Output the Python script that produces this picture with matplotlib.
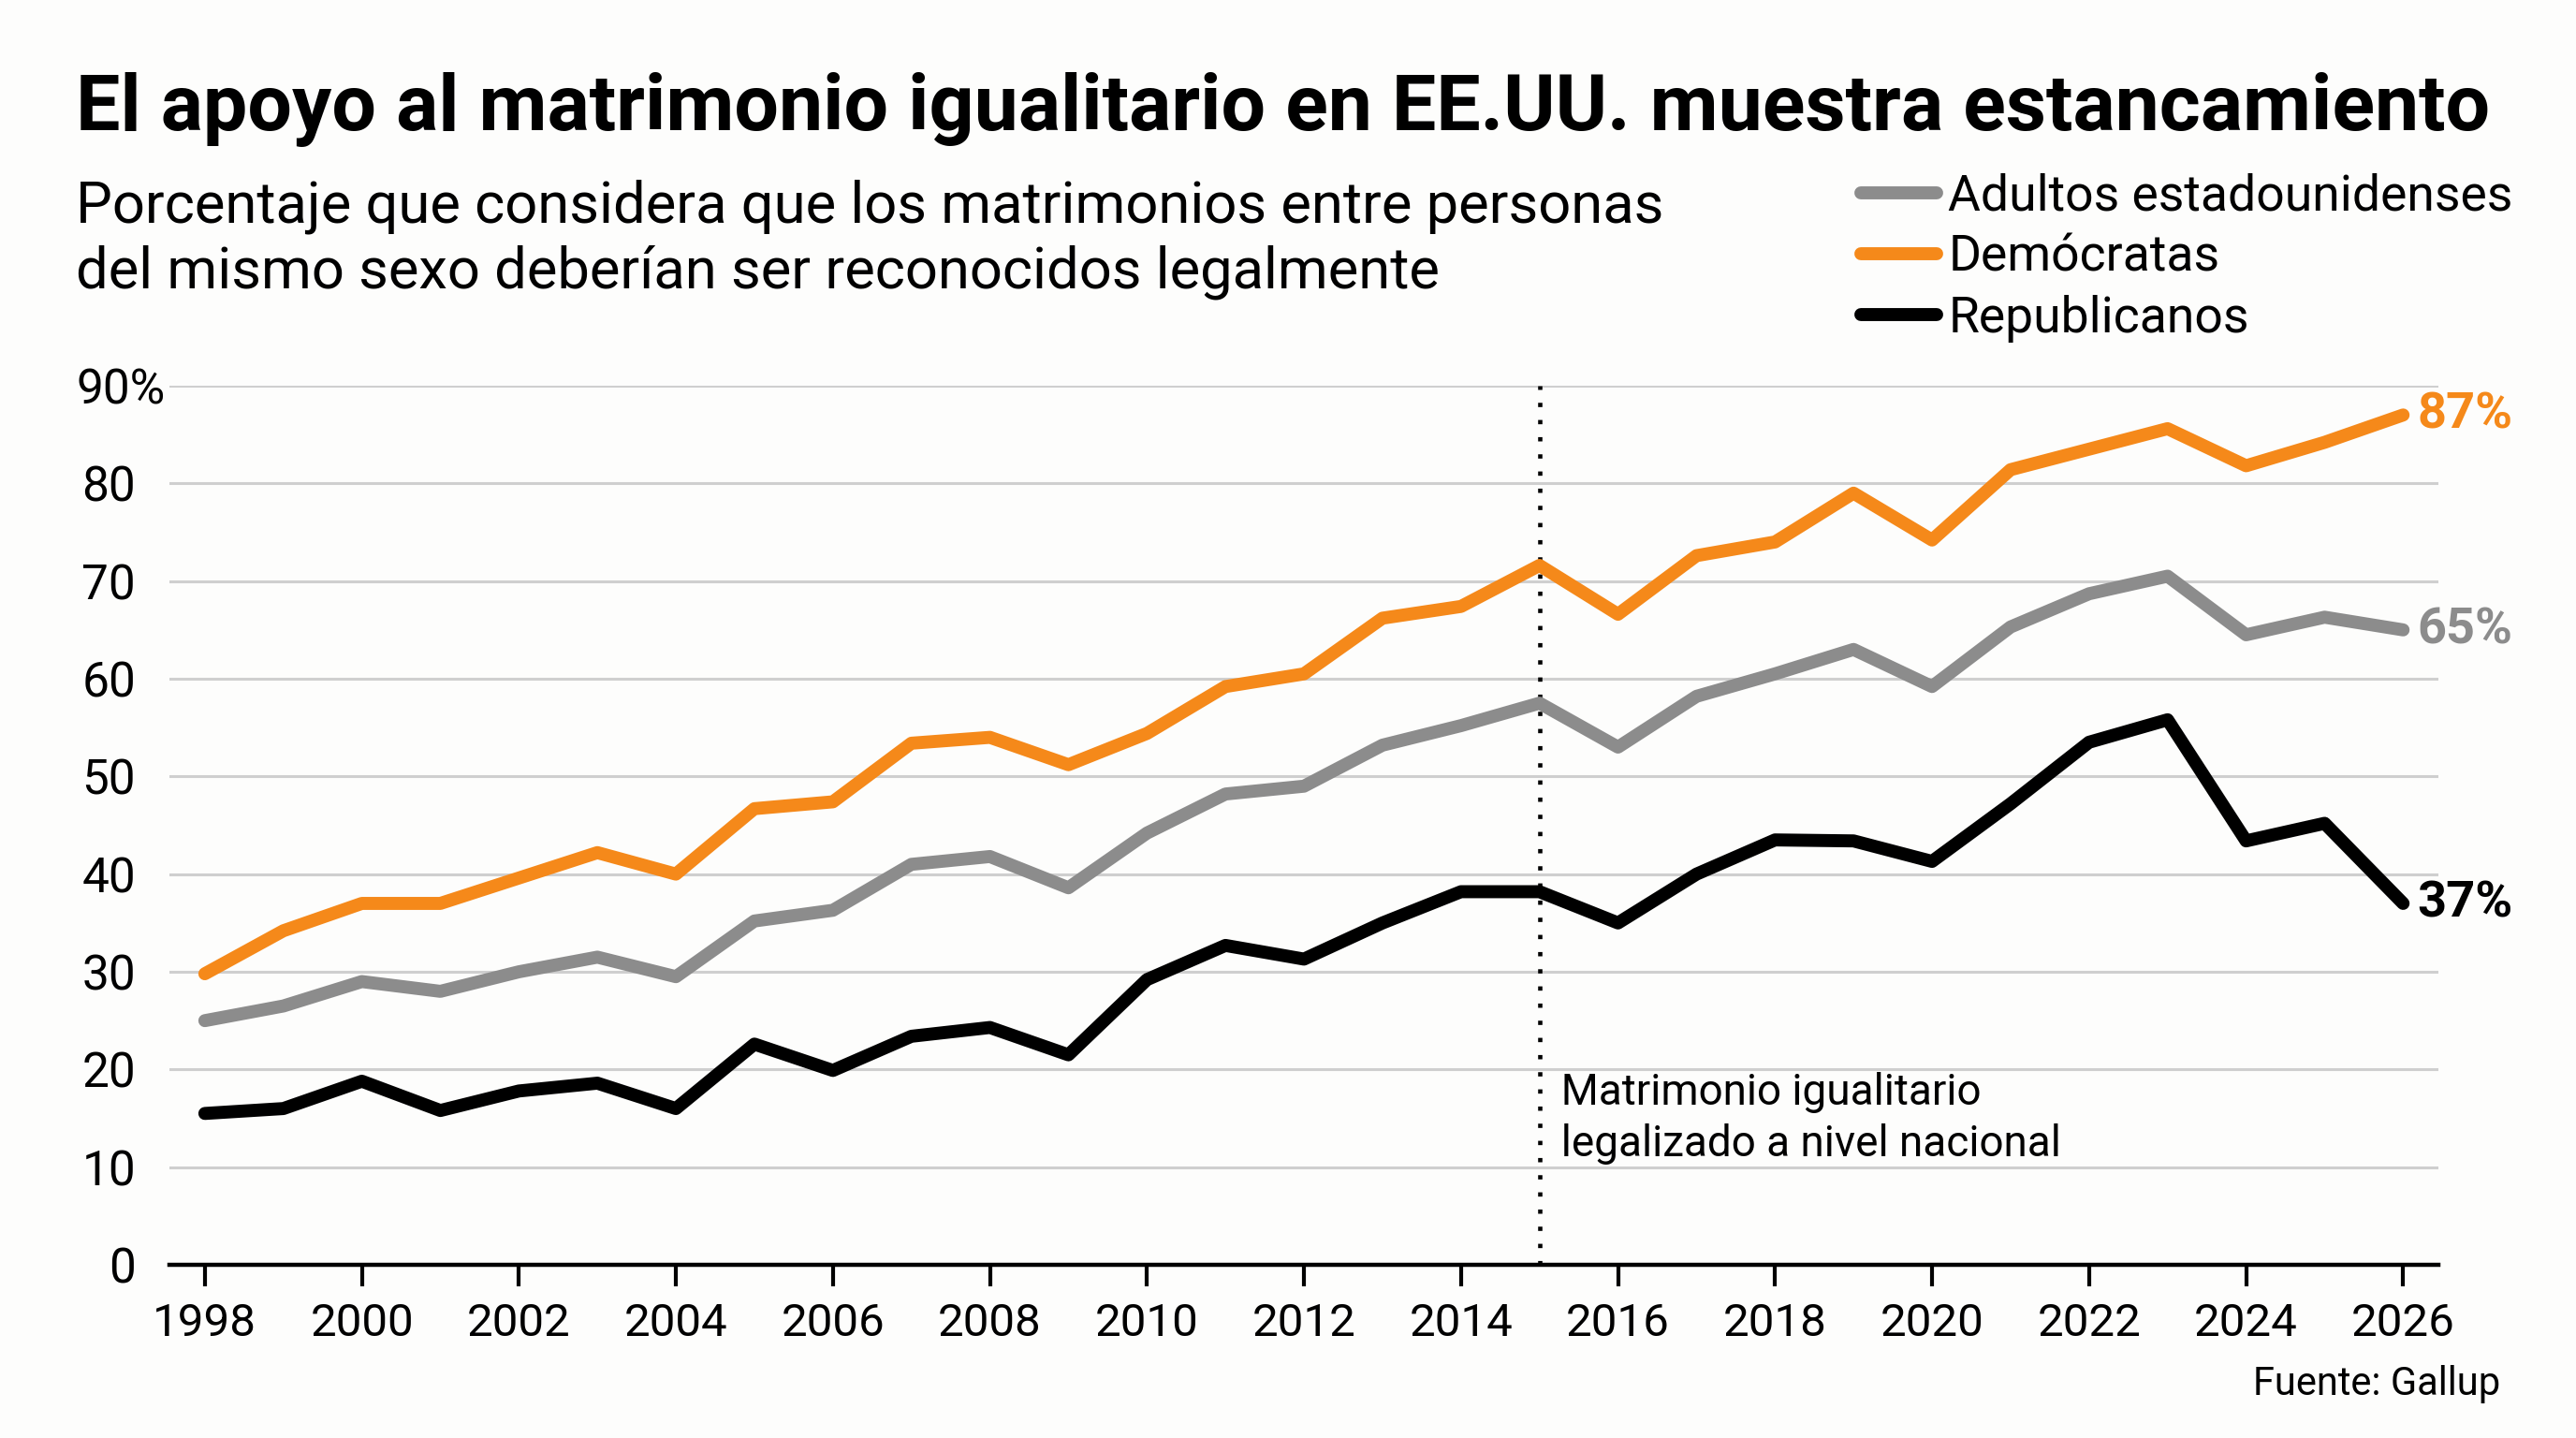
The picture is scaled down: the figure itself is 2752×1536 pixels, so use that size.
"""Apoyo al matrimonio igualitario en EE.UU. (Gallup), 1998-2026."""

import matplotlib
matplotlib.use("Agg")
import matplotlib.pyplot as plt

plt.rcParams["font.family"] = ["Roboto", "DejaVu Sans"]

# ------------------------------------------------------------------
# Data
# ------------------------------------------------------------------
years = list(range(1998, 2027))

adultos = [25, 26.5, 29, 28, 30, 31.5, 29.5, 35.2, 36.3, 41, 41.8, 38.6,
           44.2, 48.2, 49, 53.2, 55.2, 57.5, 53, 58.2, 60.5, 63, 59.2,
           65.3, 68.7, 70.5, 64.5, 66.3, 65]
democratas = [29.8, 34.2, 37, 37, 39.6, 42.2, 40, 46.7, 47.4, 53.4, 54,
              51.2, 54.4, 59.2, 60.5, 66.2, 67.4, 71.6, 66.6, 72.6, 74,
              79, 74.2, 81.4, 83.5, 85.6, 81.8, 84.2, 87]
republicanos = [15.5, 16, 18.8, 15.8, 17.8, 18.6, 16, 22.6, 19.9, 23.4,
                24.3, 21.5, 29.2, 32.7, 31.3, 35, 38.2, 38.2, 35, 40, 43.5,
                43.4, 41.3, 47.2, 53.5, 55.8, 43.4, 45.2, 37]

series_names = ["Adultos estadounidenses", "Demócratas", "Republicanos"]
series_values = [adultos, democratas, republicanos]
series_colors = ["#8c8c8c", "#f5891a", "#000000"]
end_labels = ["65%", "87%", "37%"]

yticks = [0, 10, 20, 30, 40, 50, 60, 70, 80, 90]
xticks = list(range(1998, 2027, 2))
legal_year = 2015

BG = "#fdfdfc"

# ------------------------------------------------------------------
# Plot
# ------------------------------------------------------------------
fig = plt.figure(figsize=(27.52, 15.36), dpi=100, facecolor=BG)
ax = fig.add_axes([0.0658, 0.1204, 0.8808, 0.6114], facecolor=BG)

handles = []
for name, vals, col in zip(series_names, series_values, series_colors):
    (ln,) = ax.plot(years, vals, color=col, lw=10, solid_capstyle="round",
                    solid_joinstyle="round", label=name, zorder=3)
    handles.append(ln)

for vals, col, lab in zip(series_values, series_colors, end_labels):
    ax.annotate(lab, xy=(years[-1], vals[-1]), xytext=(11, 0),
                textcoords="offset points", ha="left", va="center",
                fontsize=39, fontweight="bold", color=col)

ax.axvline(legal_year, color="black", lw=3.3, ls=(0, (1, 3)), zorder=2)
ax.text(legal_year, 15.0, "  Matrimonio igualitario\n  legalizado a nivel nacional",
        ha="left", va="center", fontsize=33, linespacing=1.3)

ax.set_xlim(1997.55, 2026.45)
ax.set_ylim(0, 90)
ax.set_yticks(yticks)
# top label is drawn separately so the "%" can hang past the column
ax.set_yticklabels([str(v) if v != yticks[-1] else "" for v in yticks])
ax.set_xticks(xticks)
ax.tick_params(axis="y", length=0, pad=26, labelsize=37)
ax.tick_params(axis="x", length=16.5, width=3, pad=12, labelsize=35.5)
ax.annotate(f"{yticks[-1]}%", xy=(0, yticks[-1]),
            xycoords=("axes fraction", "data"), xytext=(-3, 0),
            textcoords="offset points", ha="right", va="center_baseline",
            fontsize=37)

ax.grid(True, axis="y", color="#cfcfcf", lw=2.2)
ax.set_axisbelow(True)
for side in ["top", "right", "left"]:
    ax.spines[side].set_visible(False)
ax.spines["bottom"].set_linewidth(3.2)
ax.spines["bottom"].set_zorder(4)

fig.text(0.0294, 0.9095,
         "El apoyo al matrimonio igualitario en EE.UU. muestra estancamiento",
         fontsize=60.7, fontweight="bold", va="baseline", ha="left")
fig.text(0.0294, 0.8457,
         "Porcentaje que considera que los matrimonios entre personas",
         fontsize=44.3, va="baseline", ha="left")
fig.text(0.0294, 0.8001,
         "del mismo sexo deberían ser reconocidos legalmente",
         fontsize=44.3, va="baseline", ha="left")

fig.legend(handles=handles, loc="upper left", bbox_to_anchor=(0.7225, 0.880),
           frameon=False, fontsize=38.5, handlelength=1.5, handletextpad=0.24,
           labelspacing=0.27, borderpad=0, borderaxespad=0)

fig.text(0.9706, 0.030, "Fuente: Gallup", fontsize=30, ha="right",
         va="baseline")

fig.savefig("out.png", dpi=100, facecolor=BG)
